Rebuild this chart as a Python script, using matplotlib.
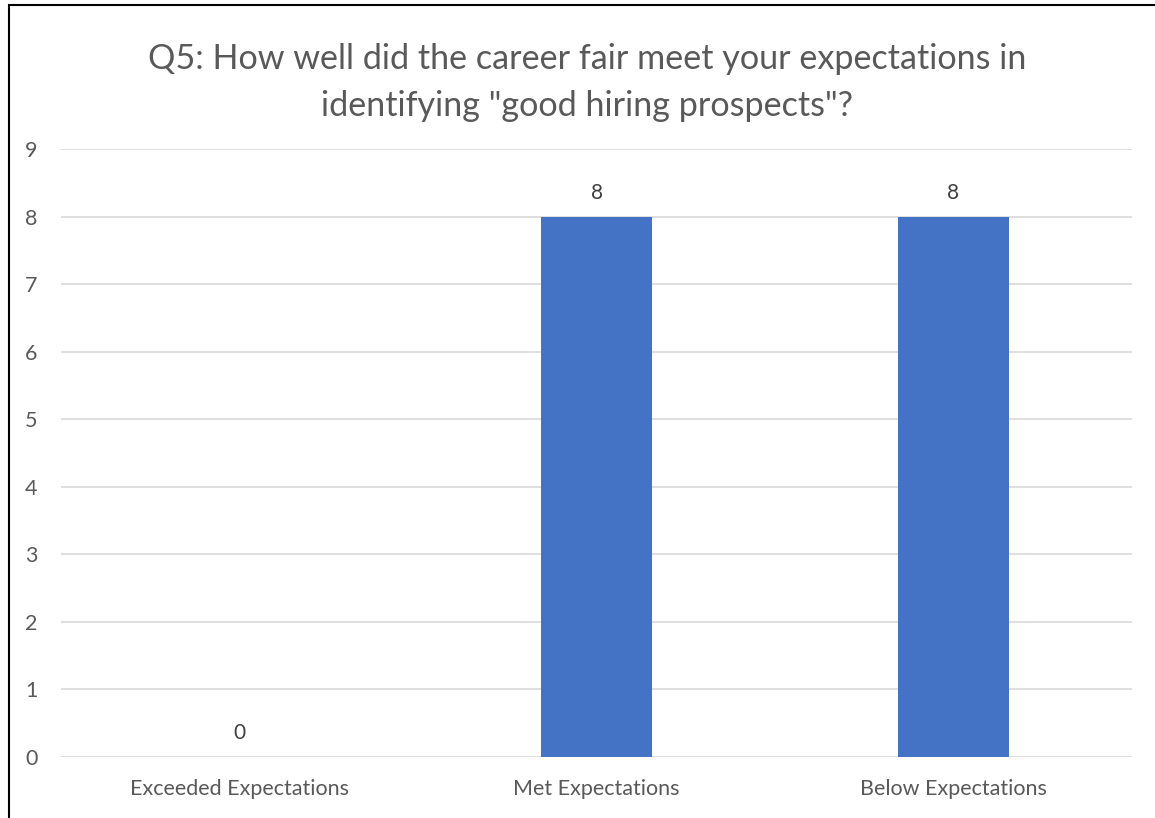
import matplotlib.pyplot as plt
from matplotlib.patches import Rectangle

categories = ["Exceeded Expectations", "Met Expectations", "Below Expectations"]
counts = [0, 8, 8]
title = 'Q5: How well did the career fair meet your expectations in\nidentifying "good hiring prospects"?'

plt.rcParams['font.family'] = ['Lato', 'DejaVu Sans']
grey = '#595959'

fig = plt.figure(figsize=(11.55, 8.18), dpi=100)
ax = fig.add_axes([61/1155, 1 - 757/818, (1132-61)/1155, (757-149)/818])

x = range(len(categories))
bars = ax.bar(x, counts, width=0.31, color='#4472c4', zorder=3)
for xi, v in zip(x, counts):
    ax.annotate(str(v), (xi, v), xytext=(0, 10), textcoords='offset points',
                ha='center', va='bottom', fontsize=15, color='#404040')

ax.set_xlim(-0.5, len(categories) - 0.5)
ax.set_ylim(0, 9)
ax.set_yticks(range(10))
ax.set_xticks(list(x))
ax.set_xticklabels(categories)
ax.grid(axis='y', color='#d9d9d9', linewidth=1.2, zorder=0)
for s in ax.spines.values():
    s.set_visible(False)
ax.tick_params(length=0, labelsize=15.5, colors=grey)
ax.tick_params(axis='x', pad=16)
ax.tick_params(axis='y', pad=17)

fig.text(0.508, 1 - 82.5/818, title, ha='center', va='center', fontsize=24.6,
         color=grey, linespacing=1.6)

fig.patches.append(Rectangle((9/1155, -0.1), 1.2, 1 - 5/818 + 0.1,
                             transform=fig.transFigure, fill=False,
                             edgecolor='black', linewidth=1.5))

fig.savefig('out.png', dpi=100)
